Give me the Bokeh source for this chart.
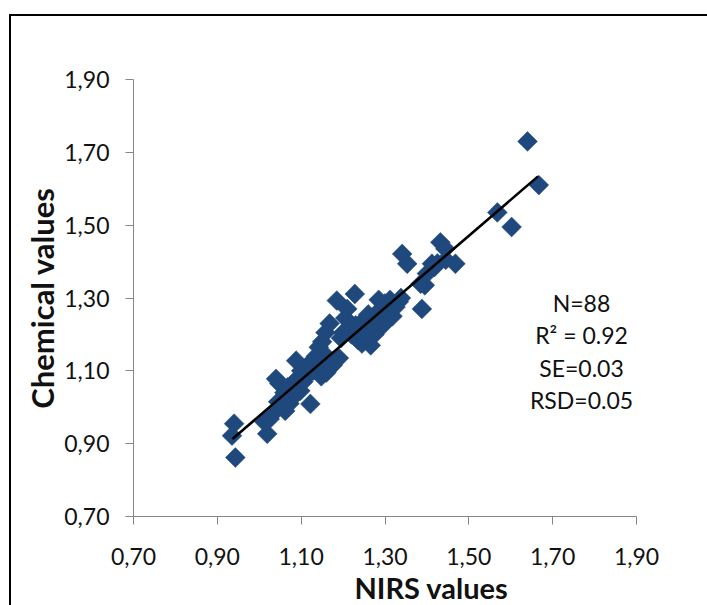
import numpy as np
from bokeh.plotting import figure
from bokeh.models import Label, FixedTicker, InlineStyleSheet, Title
from bokeh.embed import file_html
from bokeh.resources import INLINE

# ---- data ----
nirs = [0.940, 0.935, 0.943, 1.019, 1.012, 1.025, 1.035, 1.040, 1.048, 1.045,
        1.058, 1.062, 1.060, 1.068, 1.072, 1.078, 1.082, 1.088, 1.092, 1.098,
        1.100, 1.105, 1.112, 1.118, 1.122, 1.128, 1.135, 1.138, 1.142, 1.148,
        1.150, 1.152, 1.158, 1.160, 1.165, 1.168, 1.175, 1.180, 1.185, 1.190,
        1.195, 1.200, 1.205, 1.210, 1.215, 1.220, 1.228, 1.230, 1.235, 1.240,
        1.245, 1.250, 1.255, 1.260, 1.262, 1.266, 1.270, 1.275, 1.280, 1.285,
        1.290, 1.295, 1.300, 1.308, 1.312, 1.318, 1.325, 1.333, 1.338, 1.341,
        1.353, 1.385, 1.388, 1.395, 1.400, 1.412, 1.418, 1.425, 1.432, 1.444,
        1.445, 1.468, 1.568, 1.602, 1.640, 1.667, 1.150, 1.260]
chemical = [0.955, 0.922, 0.862, 0.927, 0.960, 0.968, 0.985, 1.078, 1.065, 1.015,
            1.000, 0.990, 1.040, 1.055, 1.010, 1.025, 1.060, 1.128, 1.080, 1.045,
            1.100, 1.070, 1.085, 1.118, 1.009, 1.100, 1.140, 1.115, 1.165, 1.085,
            1.180, 1.150, 1.205, 1.095, 1.105, 1.230, 1.115, 1.125, 1.293, 1.135,
            1.190, 1.205, 1.245, 1.270, 1.215, 1.200, 1.311, 1.225, 1.185, 1.205,
            1.175, 1.240, 1.195, 1.255, 1.215, 1.170, 1.230, 1.200, 1.245, 1.295,
            1.270, 1.225, 1.285, 1.260, 1.295, 1.250, 1.275, 1.290, 1.300, 1.421,
            1.394, 1.339, 1.270, 1.335, 1.367, 1.394, 1.385, 1.395, 1.453, 1.435,
            1.405, 1.394, 1.535, 1.495, 1.730, 1.610, 1.120, 1.190]

trend_x = [0.936, 1.665]
trend_y = [0.913, 1.634]

tick_values = [0.70, 0.90, 1.10, 1.30, 1.50, 1.70, 1.90]
tick_labels = ["0,70", "0,90", "1,10", "1,30", "1,50", "1,70", "1,90"]

stats_text = ["N=88", "R\u00b2 = 0.92", "SE=0.03", "RSD=0.05"]

x_title = "NIRS values"
y_title = "Chemical values"

FONT = "Lato"
MARKER = "#1F497D"
AXIS = "#868686"
TXT = "#111111"

p = figure(width=707, height=605, x_range=(0.70, 1.90), y_range=(0.70, 1.90),
           output_backend="svg", toolbar_location=None,
           min_border_left=133, min_border_right=71,
           min_border_top=79, min_border_bottom=89)
p.outline_line_color = None
p.grid.visible = False
p.background_fill_color = "white"
p.border_fill_color = "white"

p.stylesheets = [InlineStyleSheet(css=(
    ":host::after { content: ''; position: absolute; left: 9px; top: 14px; "
    "width: 800px; height: 700px; border-left: 2px solid #000; border-top: 2px solid #000; "
    "pointer-events: none; z-index: 100; box-sizing: border-box; }"
    ":host { overflow: hidden; }"))]

overrides = {v: l for v, l in zip(tick_values, tick_labels)}
for ax in (p.xaxis, p.yaxis):
    ax.ticker = FixedTicker(ticks=tick_values)
    ax.major_label_overrides = overrides
    ax.axis_line_color = AXIS
    ax.axis_line_width = 1
    ax.major_tick_line_color = AXIS
    ax.major_tick_in = 0
    ax.major_tick_out = 8
    ax.minor_tick_line_color = None
    ax.major_label_text_font = FONT
    ax.major_label_text_font_size = "23px"
    ax.major_label_text_color = TXT

p.xaxis.major_label_standoff = 23
p.yaxis.major_label_standoff = 16

p.yaxis.axis_label = y_title
p.yaxis.axis_label_text_font = FONT
p.yaxis.axis_label_text_font_style = "bold"
p.yaxis.axis_label_text_font_size = "31px"
p.yaxis.axis_label_text_color = TXT
p.yaxis.axis_label_standoff = 0

p.add_layout(Title(text=x_title, align="left", offset=221, standoff=0,
                   text_font=FONT, text_font_style="bold", text_font_size="29px",
                   text_color=TXT), "below")

stat_y = [214, 182, 149, 117]
for t, yy in zip(stats_text, stat_y):
    p.add_layout(Label(x=448, y=yy, x_units="screen", y_units="screen", text=t,
                       text_font=FONT, text_font_size="23px", text_color=TXT,
                       text_align="center", text_baseline="middle"))

p.scatter(nirs, chemical, marker="square", size=14, angle=np.pi / 4,
          fill_color=MARKER, line_color=MARKER, line_width=0.5)
p.line(trend_x, trend_y, line_color="black", line_width=2.6)

open("out.html", "w").write(file_html(p, INLINE))
